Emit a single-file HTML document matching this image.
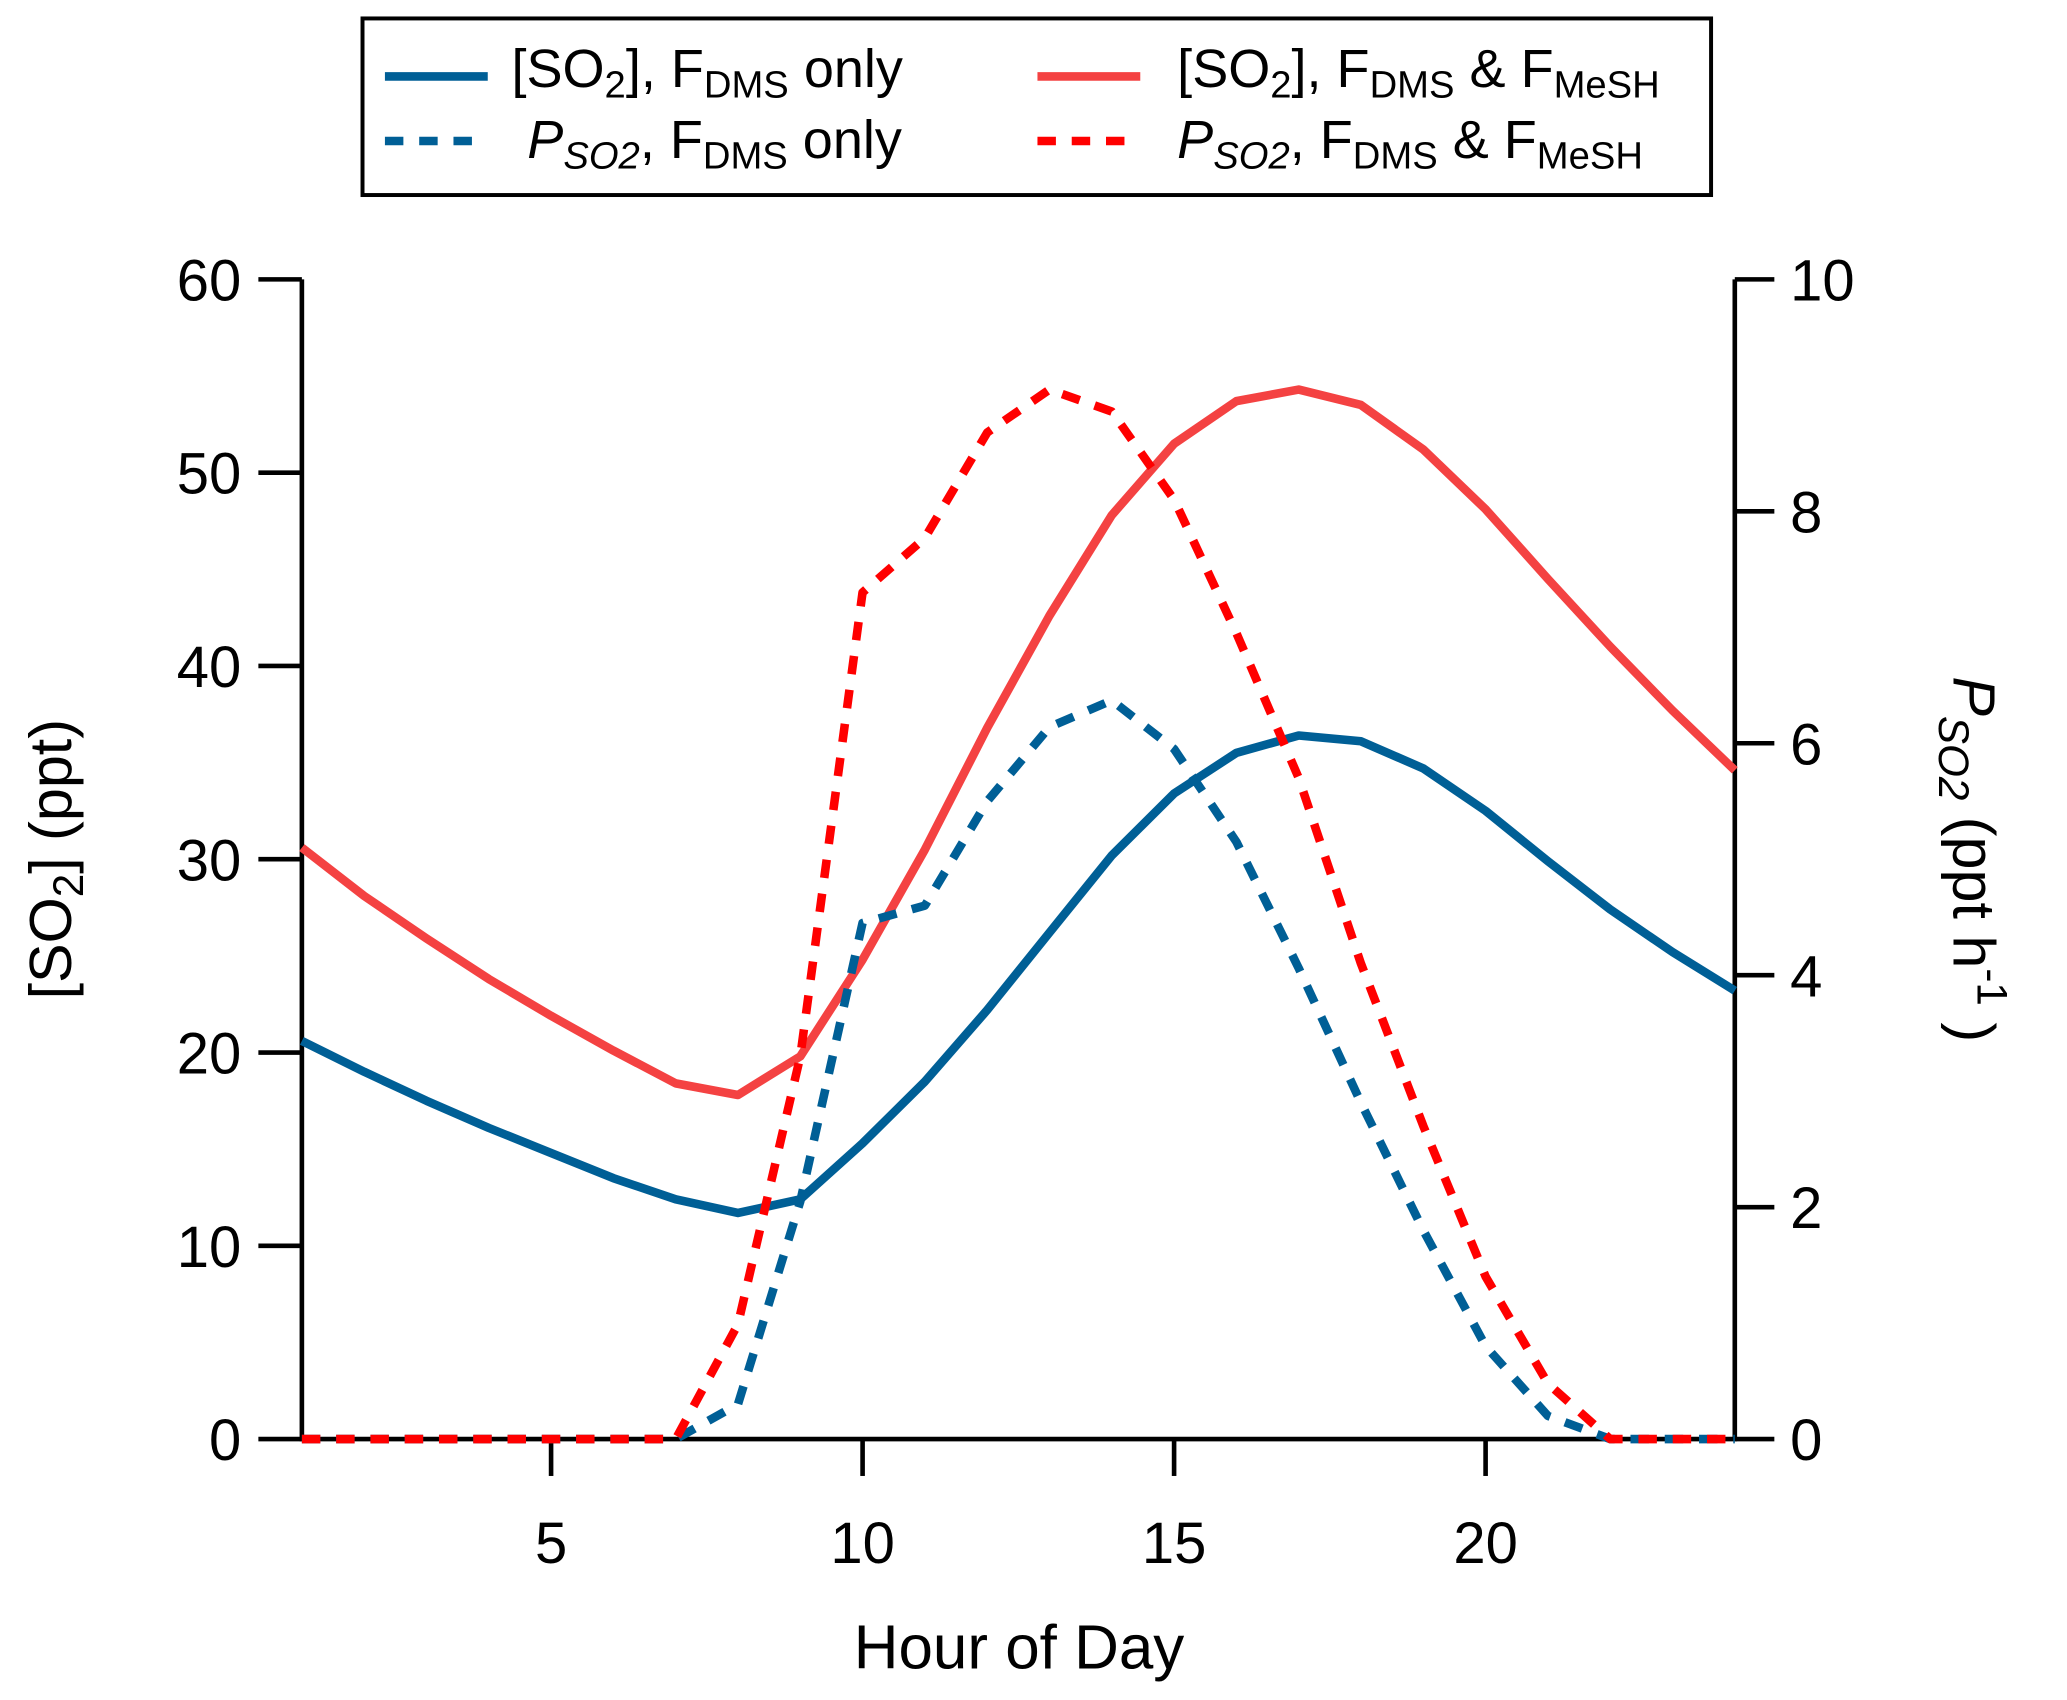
<!DOCTYPE html>
<html><head><meta charset="utf-8"><style>
html,body{margin:0;padding:0;background:#fff}
svg{display:block}
text{font-family:"Liberation Sans",sans-serif;fill:#000}
</style></head><body>
<svg width="2067" height="1700" viewBox="0 0 1568 1290" preserveAspectRatio="none" xmlns="http://www.w3.org/2000/svg">
<g id="plot"></g>
<g>
<rect x="275" y="14" width="1023" height="134" fill="#fff" stroke="#000" stroke-width="3"/>
<line x1="292" y1="58" x2="370" y2="58" stroke="#005f96" stroke-width="6.5"/>
<text x="388" y="66" font-size="41">[SO<tspan font-size="29" dy="8">2</tspan><tspan dy="-8">], F</tspan><tspan font-size="29" dy="8">DMS</tspan><tspan dy="-8"> only</tspan></text>
<line x1="292" y1="107" x2="370" y2="107" stroke="#005f96" stroke-width="6.5" stroke-dasharray="14,12"/>
<text x="400" y="120" font-size="41"><tspan font-style="italic">P</tspan><tspan font-size="29" font-style="italic" dy="8">SO2</tspan><tspan dy="-8">, F</tspan><tspan font-size="29" dy="8">DMS</tspan><tspan dy="-8"> only</tspan></text>
<line x1="787" y1="58" x2="865" y2="58" stroke="#f44242" stroke-width="6.5"/>
<text x="893" y="66" font-size="41">[SO<tspan font-size="29" dy="8">2</tspan><tspan dy="-8">], F</tspan><tspan font-size="29" dy="8">DMS</tspan><tspan dy="-8"> &amp;  F</tspan><tspan font-size="29" dy="8">MeSH</tspan></text>
<line x1="787" y1="107" x2="865" y2="107" stroke="#ff0000" stroke-width="6.5" stroke-dasharray="14,12"/>
<text x="893" y="120" font-size="41"><tspan font-style="italic">P</tspan><tspan font-size="29" font-style="italic" dy="8">SO2</tspan><tspan dy="-8">,  F</tspan><tspan font-size="29" dy="8">DMS</tspan><tspan dy="-8"> &amp;  F</tspan><tspan font-size="29" dy="8">MeSH</tspan></text>
</g>
<text x="773" y="1266" font-size="47" text-anchor="middle">Hour of Day</text>
<text transform="translate(54,652) rotate(-90)" font-size="45" text-anchor="middle">[SO<tspan font-size="32" dy="9">2</tspan><tspan dy="-9">] (ppt)</tspan></text>
<text transform="translate(1482,652) rotate(90)" font-size="45" text-anchor="middle"><tspan font-style="italic">P</tspan><tspan font-size="32" font-style="italic" dy="11">SO2</tspan><tspan dy="-11"> (ppt h</tspan><tspan font-size="32" dy="-18">-1</tspan><tspan dy="18"> )</tspan></text>
</svg>
<script>
const hours=[1,2,3,4,5,6,7,8,9,10,11,12,13,14,15,16,17,18,19,20,21,22,23,24];
const so2Dms=[20.6,19,17.5,16.1,14.8,13.5,12.4,11.7,12.4,15.3,18.5,22.2,26.2,30.2,33.4,35.5,36.4,36.1,34.7,32.5,29.9,27.4,25.2,23.2];
const so2Mesh=[30.6,28.1,25.9,23.8,21.9,20.1,18.4,17.8,19.8,24.8,30.5,36.8,42.6,47.8,51.5,53.7,54.3,53.5,51.2,48.1,44.5,41,37.7,34.6];
const pso2Dms=[0,0,0,0,0,0,0,0.3,2.05,4.45,4.6,5.5,6.14,6.37,5.95,5.15,4.06,2.9,1.8,0.8,0.2,0,0,0];
const pso2Mesh=[0,0,0,0,0,0,0,0.99,3.3,7.3,7.77,8.68,9.05,8.86,8.1,6.95,5.7,4.1,2.7,1.4,0.48,0,0,0];
const xTicks=[5,10,15,20];
const yLeftTicks=[0,10,20,30,40,50,60];
const yRightTicks=[0,2,4,6,8,10];
const X0=229,X1=1316,Y0=1092,Y1=212;
const xs=h=>X0+(h-1)/23*(X1-X0);
const yl=v=>Y0-v/60*(Y0-Y1);
const yr=v=>Y0-v/10*(Y0-Y1);
const NS='http://www.w3.org/2000/svg';
const g=document.getElementById('plot');
function mk(t,a){const e=document.createElementNS(NS,t);for(const k in a)e.setAttribute(k,a[k]);g.appendChild(e);return e;}
function series(vals,yf,color,dash,name){
  const d=vals.map((v,i)=>(i?'L':'M')+xs(hours[i]).toFixed(1)+' '+yf(v).toFixed(1)).join(' ');
  const p=mk('path',{d:d,fill:'none',stroke:color,'stroke-width':6.5,'stroke-linejoin':'round'});
  if(dash)p.setAttribute('stroke-dasharray',dash);
  
  
}
const ax=mk('path',{d:`M${X0} ${Y1} L${X0} ${Y0} L${X1} ${Y0} L${X1} ${Y1}`,fill:'none',stroke:'#000','stroke-width':3.5});


yLeftTicks.forEach(v=>{
  const y=yl(v);
  const t=mk('line',{x1:X0-33,x2:X0,y1:y,y2:y,stroke:'#000','stroke-width':3.5});
  
  
  const l=mk('text',{x:X0-46,y:y+16,'font-size':44,'text-anchor':'end'});l.textContent=v;
  
  
});
yRightTicks.forEach(v=>{
  const y=yr(v);
  const t=mk('line',{x1:X1,x2:X1+30,y1:y,y2:y,stroke:'#000','stroke-width':3.5});
  
  
  const l=mk('text',{x:X1+42,y:y+16,'font-size':44});l.textContent=v;
  
  
});
xTicks.forEach(v=>{
  const x=xs(v);
  const t=mk('line',{x1:x,x2:x,y1:Y0,y2:Y0+28,stroke:'#000','stroke-width':3.5});
  
  
  const l=mk('text',{x:x,y:Y0+94,'font-size':44,'text-anchor':'middle'});l.textContent=v;
  
  
});
series(so2Dms,yl,'#005f96',null,'line-so2-dms-only');
series(so2Mesh,yl,'#f44242',null,'line-so2-dms-mesh');
series(pso2Dms,yr,'#005f96','14,12','line-pso2-dms-only');
series(pso2Mesh,yr,'#ff0000','14,12','line-pso2-dms-mesh');
</script>
</body></html>
